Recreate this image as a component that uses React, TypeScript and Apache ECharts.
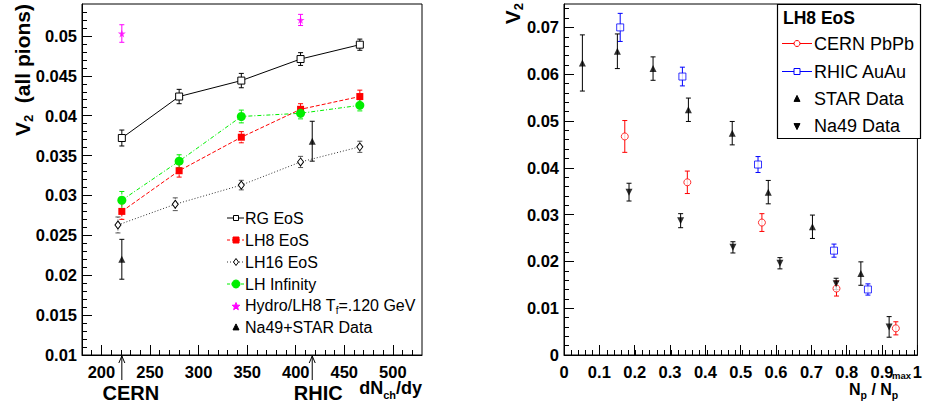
import React, { useEffect, useRef } from "react";
import * as echarts from "echarts";

// ---------------- data: left panel (v2 vs dNch/dy) ----------------
const NCH = [221, 280, 344, 405, 466];
const NCH_LH16 = [217, 276, 344, 405, 466];
const RG_V2 = [0.0372, 0.0424, 0.0444, 0.0471, 0.0489];
const RG_ERR = [0.001, 0.0009, 0.0009, 0.0008, 0.0007];
const LH8_V2 = [0.028, 0.0331, 0.0373, 0.0408, 0.0424];
const LH8_ERR = [0.001, 0.0008, 0.0007, 0.0007, 0.0008];
const LH16_V2 = [0.0263, 0.0289, 0.0313, 0.0342, 0.0361];
const LH16_ERR = [0.001, 0.0008, 0.0006, 0.0007, 0.0007];
const LHINF_V2 = [0.0294, 0.0343, 0.0399, 0.0403, 0.0413];
const LHINF_ERR = [0.0011, 0.0008, 0.0008, 0.0007, 0.0007];
const HYDRO_X = [221, 405];
const HYDRO_V2 = [0.0503, 0.052];
const HYDRO_ERR = [0.0011, 0.0007];
const EXP_X = [221, 417];
const EXP_V2 = [0.022, 0.0368];
const EXP_ERR = [0.0025, 0.0025];
const CERN_DNDY = 221;
const RHIC_DNDY = 417;

const LEFT_X_TICKS = [200, 250, 300, 350, 400, 450, 500];
const LEFT_Y_TICKS = [0.01, 0.015, 0.02, 0.025, 0.03, 0.035, 0.04, 0.045, 0.05];

// ---------------- data: right panel (v2 vs Np/Npmax) ----------------
const CERN_X = [0.172, 0.349, 0.56, 0.771, 0.939];
const CERN_V2 = [0.0467, 0.0369, 0.0283, 0.0142, 0.0057];
const CERN_ERR = [0.0034, 0.0024, 0.0019, 0.0016, 0.0014];
const RHIC_X = [0.159, 0.335, 0.549, 0.764, 0.86];
const RHIC_V2 = [0.07, 0.0595, 0.0407, 0.0223, 0.014];
const RHIC_ERR = [0.003, 0.002, 0.0017, 0.0014, 0.0012];
const STAR_X = [0.052, 0.151, 0.252, 0.352, 0.476, 0.578, 0.703, 0.84];
const STAR_V2 = [0.0624, 0.0649, 0.0612, 0.0524, 0.0474, 0.0348, 0.0274, 0.0174];
const STAR_ERR = [0.006, 0.0037, 0.0025, 0.0025, 0.0025, 0.0025, 0.0025, 0.0025];
const NA49_X = [0.184, 0.33, 0.478, 0.611, 0.77, 0.92];
const NA49_V2 = [0.0348, 0.0287, 0.023, 0.0196, 0.0152, 0.006];
const NA49_ERR = [0.0019, 0.0015, 0.0012, 0.0012, 0.0012, 0.0022];

const RIGHT_X_TICKS = [0, 0.1, 0.2, 0.3, 0.4, 0.5, 0.6, 0.7, 0.8, 0.9, 1];
const RIGHT_Y_TICKS = [0, 0.01, 0.02, 0.03, 0.04, 0.05, 0.06, 0.07];

// ---------------- style ----------------
const FONT = '"Liberation Sans", Arial, Helvetica, sans-serif';
const RED = "#ff0000";
const BLUE = "#0000ff";
const GREEN = "#00ee00";
const MAGENTA = "#ff00ff";
const STAR_PATH =
  "path://M50,0 L61,35 L98,35 L68,57 L79,91 L50,70 L21,91 L32,57 L2,35 L39,35 Z";

function minorTicks(min: number, max: number, step: number, dec: number) {
  const out: number[] = [];
  const n = Math.round((max - min) / step);
  for (let i = 0; i <= n; i++) out.push(+(min + i * step).toFixed(dec));
  return out;
}

const pairs = (xs: number[], ys: number[]) => xs.map((x, i) => [x, ys[i]]);

function mainAxis(gridIndex: number, min: number, max: number, ticks: number[], margin: number) {
  return {
    type: "value",
    gridIndex,
    min,
    max,
    axisLine: { show: true, onZero: false, lineStyle: { color: "#000", width: 1 } },
    axisTick: { show: true, inside: true, length: 10, customValues: ticks, lineStyle: { color: "#000", width: 1 } },
    axisLabel: {
      show: true,
      customValues: ticks,
      margin,
      fontFamily: FONT,
      fontWeight: "bold",
      fontSize: 16.5,
      color: "#000",
      formatter: (v: number) => String(+v.toFixed(4)),
    },
    splitLine: { show: false },
  };
}

function minorAxis(gridIndex: number, min: number, max: number, ticks: number[]) {
  return {
    type: "value",
    gridIndex,
    min,
    max,
    axisLine: { show: false, onZero: false },
    axisTick: { show: true, inside: true, length: 5, customValues: ticks, lineStyle: { color: "#000", width: 1 } },
    axisLabel: { show: false },
    splitLine: { show: false },
  };
}

function errSeries(
  name: string,
  axis: number,
  xs: number[],
  ys: number[],
  es: number[],
  color: string,
  dash?: number[]
) {
  return {
    type: "custom",
    name,
    xAxisIndex: axis,
    yAxisIndex: axis,
    z: 1,
    silent: true,
    encode: { x: 0, y: 1 },
    data: xs.map((x, i) => [x, ys[i], es[i]]),
    renderItem: (_p: any, api: any) => {
      const x = api.value(0);
      const y = api.value(1);
      const e = api.value(2);
      const t = api.coord([x, y + e]);
      const b = api.coord([x, y - e]);
      const cap = 2.5;
      const capStyle = { stroke: color, lineWidth: 1 };
      return {
        type: "group",
        children: [
          { type: "line", shape: { x1: t[0], y1: t[1], x2: b[0], y2: b[1] }, style: { stroke: color, lineWidth: 1, lineDash: dash } },
          { type: "line", shape: { x1: t[0] - cap, y1: t[1], x2: t[0] + cap, y2: t[1] }, style: capStyle },
          { type: "line", shape: { x1: b[0] - cap, y1: b[1], x2: b[0] + cap, y2: b[1] }, style: capStyle },
        ],
      };
    },
  };
}

// legend marker shapes (graphic)
const gRect = (cx: number, cy: number, s: number, fill: string, stroke: string) => ({
  type: "rect",
  shape: { x: cx - s / 2, y: cy - s / 2, width: s, height: s },
  style: { fill, stroke, lineWidth: 1 },
});
const gCircle = (cx: number, cy: number, r: number, fill: string, stroke: string) => ({
  type: "circle",
  shape: { cx, cy, r },
  style: { fill, stroke, lineWidth: 1 },
});
const gPoly = (pts: number[][], fill: string, stroke?: string) => ({
  type: "polygon",
  shape: { points: pts },
  style: { fill, stroke: stroke || fill, lineWidth: 1 },
});
const gLine = (x1: number, y1: number, x2: number, y2: number, stroke: string, dash?: number[]) => ({
  type: "line",
  shape: { x1, y1, x2, y2 },
  style: { stroke, lineWidth: 1, lineDash: dash },
});
const gText = (x: number, y: number, text: string, size: number, bold: boolean, extra: any = {}) => ({
  type: "text",
  x,
  y,
  style: {
    text,
    fontFamily: FONT,
    fontSize: size,
    fontWeight: bold ? "bold" : "normal",
    fill: "#000",
    textAlign: "left",
    textVerticalAlign: "middle",
    ...extra,
  },
});
const starPts = (cx: number, cy: number, R: number) => {
  const pts: number[][] = [];
  for (let i = 0; i < 10; i++) {
    const r = i % 2 === 0 ? R : R * 0.42;
    const a = -Math.PI / 2 + (i * Math.PI) / 5;
    pts.push([cx + r * Math.cos(a), cy + r * Math.sin(a)]);
  }
  return pts;
};
const triUp = (cx: number, cy: number, s: number) => [
  [cx, cy - s * 0.6],
  [cx + s / 2, cy + s * 0.4],
  [cx - s / 2, cy + s * 0.4],
];
const triDown = (cx: number, cy: number, s: number) => [
  [cx, cy + s * 0.6],
  [cx + s / 2, cy - s * 0.4],
  [cx - s / 2, cy - s * 0.4],
];

const RICH_DN = {
  m: { fontFamily: FONT, fontWeight: "bold", fontSize: 18, lineHeight: 24, fill: "#000" },
  s: { fontFamily: FONT, fontWeight: "bold", fontSize: 11, lineHeight: 11, verticalAlign: "bottom", fill: "#000" },
};
const RICH_NP = {
  m: { fontFamily: FONT, fontWeight: "bold", fontSize: 16, lineHeight: 22, fill: "#000" },
  s: { fontFamily: FONT, fontWeight: "bold", fontSize: 10.5, lineHeight: 10, verticalAlign: "bottom", fill: "#000" },
};

export default function App() {
  const ref = useRef<HTMLDivElement>(null);

  useEffect(() => {
    if (!ref.current) return;
    const chart = echarts.init(ref.current, undefined, { renderer: "svg" });

    const gridL = { left: 82, top: 4, width: 340, height: 351 };
    const gridR = { left: 564, top: 4, width: 357, height: 351 };

    const option: any = {
      animation: false,
      backgroundColor: "#fff",
      grid: [
        { ...gridL, show: true, borderColor: "#000", borderWidth: 1, backgroundColor: "transparent", containLabel: false },
        { ...gridR, show: true, borderColor: "#000", borderWidth: 1, backgroundColor: "transparent", containLabel: false },
        { ...gridL, show: false, containLabel: false },
        { ...gridR, show: false, containLabel: false },
      ],
      xAxis: [
        mainAxis(0, 180, 530, LEFT_X_TICKS, 8),
        mainAxis(1, 0, 1, RIGHT_X_TICKS, 8),
        minorAxis(2, 180, 530, minorTicks(190, 520, 10, 0)),
        minorAxis(3, 0, 1, minorTicks(0.02, 0.98, 0.02, 2)),
      ],
      yAxis: [
        mainAxis(0, 0.01, 0.054, LEFT_Y_TICKS, 5),
        mainAxis(1, 0, 0.075, RIGHT_Y_TICKS, 5),
        minorAxis(2, 0.01, 0.054, minorTicks(0.011, 0.053, 0.001, 3)),
        minorAxis(3, 0, 0.075, minorTicks(0.002, 0.074, 0.002, 3)),
      ],
      series: [
        // error bars (left)
        errSeries("RG err", 0, NCH, RG_V2, RG_ERR, "#000"),
        errSeries("LH8 err", 0, NCH, LH8_V2, LH8_ERR, RED, [3, 2]),
        errSeries("LH16 err", 0, NCH_LH16, LH16_V2, LH16_ERR, "#555", [1, 1.5]),
        errSeries("LHinf err", 0, NCH, LHINF_V2, LHINF_ERR, GREEN, [3, 1.5, 1, 1.5]),
        errSeries("Hydro err", 0, HYDRO_X, HYDRO_V2, HYDRO_ERR, MAGENTA),
        errSeries("Data err", 0, EXP_X, EXP_V2, EXP_ERR, "#000"),
        {
          type: "line",
          name: "RG EoS",
          xAxisIndex: 0,
          yAxisIndex: 0,
          z: 3,
          data: pairs(NCH, RG_V2),
          symbol: "rect",
          symbolSize: 7,
          itemStyle: { color: "#fff", borderColor: "#000", borderWidth: 1 },
          lineStyle: { color: "#000", width: 1 },
          emphasis: { disabled: true },
        },
        {
          type: "line",
          name: "LH8 EoS",
          xAxisIndex: 0,
          yAxisIndex: 0,
          z: 3,
          data: pairs(NCH, LH8_V2),
          symbol: "rect",
          symbolSize: 7,
          itemStyle: { color: RED, borderColor: RED, borderWidth: 0 },
          lineStyle: { color: RED, width: 1, type: [4, 2] },
          emphasis: { disabled: true },
        },
        {
          type: "line",
          name: "LH16 EoS",
          xAxisIndex: 0,
          yAxisIndex: 0,
          z: 3,
          data: pairs(NCH_LH16, LH16_V2),
          symbol: "diamond",
          symbolSize: [6, 8],
          itemStyle: { color: "#fff", borderColor: "#000", borderWidth: 1 },
          lineStyle: { color: "#333", width: 1, type: [1, 2] },
          emphasis: { disabled: true },
        },
        {
          type: "line",
          name: "LH Infinity",
          xAxisIndex: 0,
          yAxisIndex: 0,
          z: 3,
          data: pairs(NCH, LHINF_V2),
          symbol: "circle",
          symbolSize: 9,
          itemStyle: { color: GREEN, borderWidth: 0 },
          lineStyle: { color: GREEN, width: 1, type: [4, 2, 1, 2] },
          emphasis: { disabled: true },
        },
        {
          type: "scatter",
          name: "Hydro/LH8 Tf=.120 GeV",
          xAxisIndex: 0,
          yAxisIndex: 0,
          z: 3,
          data: pairs(HYDRO_X, HYDRO_V2),
          symbol: STAR_PATH,
          symbolSize: 8,
          itemStyle: { color: MAGENTA },
          emphasis: { disabled: true },
        },
        {
          type: "scatter",
          name: "Na49+STAR Data",
          xAxisIndex: 0,
          yAxisIndex: 0,
          z: 3,
          data: pairs(EXP_X, EXP_V2),
          symbol: "triangle",
          symbolSize: 7,
          itemStyle: { color: "#000" },
          emphasis: { disabled: true },
        },
        // right panel
        errSeries("CERN err", 1, CERN_X, CERN_V2, CERN_ERR, RED),
        errSeries("RHIC err", 1, RHIC_X, RHIC_V2, RHIC_ERR, BLUE),
        errSeries("STAR err", 1, STAR_X, STAR_V2, STAR_ERR, "#000"),
        errSeries("Na49 err", 1, NA49_X, NA49_V2, NA49_ERR, "#000"),
        {
          type: "scatter",
          name: "CERN PbPb",
          xAxisIndex: 1,
          yAxisIndex: 1,
          z: 3,
          data: pairs(CERN_X, CERN_V2),
          symbol: "circle",
          symbolSize: 7,
          itemStyle: { color: "#fff", borderColor: RED, borderWidth: 1 },
          emphasis: { disabled: true },
        },
        {
          type: "scatter",
          name: "RHIC AuAu",
          xAxisIndex: 1,
          yAxisIndex: 1,
          z: 3,
          data: pairs(RHIC_X, RHIC_V2),
          symbol: "rect",
          symbolSize: 7,
          itemStyle: { color: "#fff", borderColor: BLUE, borderWidth: 1 },
          emphasis: { disabled: true },
        },
        {
          type: "scatter",
          name: "STAR Data",
          xAxisIndex: 1,
          yAxisIndex: 1,
          z: 3,
          data: pairs(STAR_X, STAR_V2),
          symbol: "triangle",
          symbolSize: 7,
          itemStyle: { color: "#000" },
          emphasis: { disabled: true },
        },
        {
          type: "scatter",
          name: "Na49 Data",
          xAxisIndex: 1,
          yAxisIndex: 1,
          z: 3,
          data: pairs(NA49_X, NA49_V2),
          symbol: "triangle",
          symbolRotate: 180,
          symbolSize: 7,
          itemStyle: { color: "#000" },
          emphasis: { disabled: true },
        },
      ],
    };
    chart.setOption(option);

    const cernX = (chart.convertToPixel({ gridIndex: 0 }, [CERN_DNDY, 0.01]) as number[])[0];
    const rhicX = (chart.convertToPixel({ gridIndex: 0 }, [RHIC_DNDY, 0.01]) as number[])[0];

    const arrow = (x: number) => [
      gLine(x, 380, x, 356, "#000"),
      { type: "polyline", shape: { points: [[x - 3, 363], [x, 356], [x + 3, 363]] }, style: { stroke: "#000", lineWidth: 1, fill: null } },
    ];

    // left legend
    const LX = 236;
    const LT = 245;
    const ly = [218, 240, 262, 284, 305.5, 327.5];
    const leftLegend: any[] = [
      gLine(LX - 9, ly[0], LX + 8, ly[0], "#000"),
      gRect(LX, ly[0], 5, "#fff", "#000"),
      gText(LT, ly[0], "RG EoS", 16, false),
      gLine(LX - 9, ly[1], LX + 8, ly[1], RED, [3, 2]),
      gRect(LX, ly[1], 6, RED, RED),
      gText(LT, ly[1], "LH8 EoS", 16, false),
      gLine(LX - 9, ly[2], LX + 8, ly[2], "#333", [1, 2]),
      gPoly([[LX, ly[2] - 3.5], [LX + 2.5, ly[2]], [LX, ly[2] + 3.5], [LX - 2.5, ly[2]]], "#fff", "#000"),
      gText(LT, ly[2], "LH16 EoS", 16, false),
      gLine(LX - 9, ly[3], LX + 8, ly[3], GREEN, [3, 1.5, 1, 1.5]),
      gCircle(LX, ly[3], 4, GREEN, GREEN),
      gText(LT, ly[3], "LH Infinity", 16, false),
      gPoly(starPts(LX, ly[4] + 1, 4), MAGENTA),
      {
        type: "text",
        x: LT,
        y: ly[4],
        style: {
          text: "{n|Hydro/LH8 T}{s|f}{n|=.120 GeV}",
          textAlign: "left",
          textVerticalAlign: "middle",
          rich: {
            n: { fontFamily: FONT, fontSize: 16, lineHeight: 20, fill: "#000" },
            s: { fontFamily: FONT, fontSize: 10, lineHeight: 10, verticalAlign: "bottom", fill: "#000" },
          },
        },
      },
      gPoly(triUp(LX, ly[5], 6), "#000"),
      gText(LT, ly[5], "Na49+STAR Data", 16, false),
    ];

    // right legend
    const RX = 797;
    const RT = 814;
    const ry = [43.5, 71.5, 99, 126];
    const rightLegend: any[] = [
      { type: "rect", shape: { x: 777.5, y: 4.5, width: 143, height: 134 }, style: { fill: "#fff", stroke: "#000", lineWidth: 1.2 } },
      gText(783, 18, "LH8 EoS", 17.5, true),
      gLine(782, ry[0], 812, ry[0], RED),
      gCircle(RX, ry[0], 3, "#fff", RED),
      gText(RT, ry[0], "CERN PbPb", 18, false),
      gLine(782, ry[1], 812, ry[1], BLUE),
      gRect(RX, ry[1], 6, "#fff", BLUE),
      gText(RT, ry[1], "RHIC AuAu", 18, false),
      gPoly(triUp(RX, ry[2], 6), "#000"),
      gText(RT, ry[2], "STAR Data", 18, false),
      gPoly(triDown(RX, ry[3], 6), "#000"),
      gText(RT, ry[3], "Na49 Data", 18, false),
    ];

    const titles: any[] = [
      {
        type: "text",
        x: 22,
        y: 4,
        rotation: Math.PI / 2,
        style: {
          text: "{m|V}{s|2}{m|  (all pions)}",
          textAlign: "right",
          textVerticalAlign: "middle",
          rich: {
            m: { fontFamily: FONT, fontWeight: "bold", fontSize: 21, lineHeight: 26, fill: "#000" },
            s: { fontFamily: FONT, fontWeight: "bold", fontSize: 13, lineHeight: 13, verticalAlign: "bottom", fill: "#000" },
          },
        },
      },
      {
        type: "text",
        x: 512,
        y: 3,
        rotation: Math.PI / 2,
        style: {
          text: "{m|V}{s|2}",
          textAlign: "right",
          textVerticalAlign: "middle",
          rich: {
            m: { fontFamily: FONT, fontWeight: "bold", fontSize: 21, lineHeight: 26, fill: "#000" },
            s: { fontFamily: FONT, fontWeight: "bold", fontSize: 13, lineHeight: 13, verticalAlign: "bottom", fill: "#000" },
          },
        },
      },
      {
        type: "text",
        x: 422,
        y: 388,
        style: { text: "{m|dN}{s|ch}{m|/dy}", textAlign: "right", textVerticalAlign: "middle", rich: RICH_DN },
      },
      {
        type: "text",
        x: 849,
        y: 389,
        style: { text: "{m|N}{s|p}{m| / N}{s|p}", textAlign: "left", textVerticalAlign: "middle", rich: RICH_NP },
      },
      gText(892, 375, "max", 9.5, true),
      gText(cernX + 9, 393, "CERN", 20, true, { textAlign: "center" }),
      gText(rhicX + 6, 393, "RHIC", 20, true, { textAlign: "center" }),
      ...arrow(cernX),
      ...arrow(rhicX),
    ];

    chart.setOption({ graphic: [...leftLegend, ...rightLegend, ...titles] });

    return () => chart.dispose();
  }, []);

  return <div ref={ref} style={{ position: "absolute", left: 0, top: 0, width: 925, height: 407 }} />;
}
